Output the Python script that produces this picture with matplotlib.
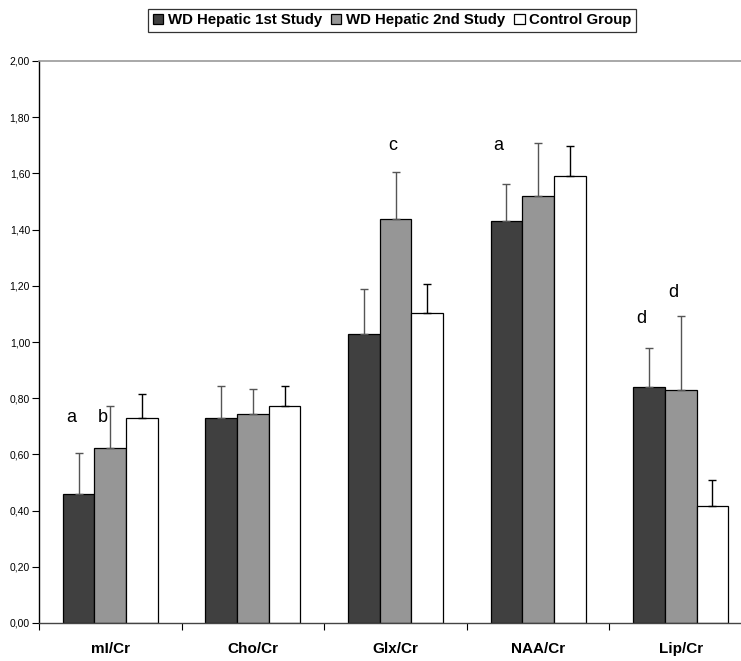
import matplotlib
matplotlib.use("Agg")
import matplotlib.pyplot as plt
import numpy as np
from matplotlib.ticker import FuncFormatter, FixedLocator

plt.rcParams['font.family'] = ['Liberation Sans', 'DejaVu Sans']

categories = ["mI/Cr", "Cho/Cr", "Glx/Cr", "NAA/Cr", "Lip/Cr"]
series = ["WD Hepatic 1st Study", "WD Hepatic 2nd Study", "Control Group"]

first_study = [0.458, 0.731, 1.028, 1.431, 0.841]
first_err = [0.148, 0.112, 0.160, 0.130, 0.138]
second_study = [0.623, 0.743, 1.437, 1.520, 0.829]
second_err = [0.149, 0.091, 0.169, 0.187, 0.262]
control = [0.731, 0.773, 1.104, 1.591, 0.416]
control_err = [0.083, 0.070, 0.101, 0.107, 0.092]

# significance letters: (category index, series index, letter, y)
letters = [(0, 0, "a", 0.73), (0, 1, "b", 0.73), (2, 1, "c", 1.70),
           (3, 0, "a", 1.70), (4, 0, "d", 1.085), (4, 1, "d", 1.175)]

values = [first_study, second_study, control]
errors = [first_err, second_err, control_err]
colors = ["#404040", "#969696", "#ffffff"]
err_colors = ["#555555", "#555555", "#000000"]

fig = plt.figure(figsize=(7.41, 6.61), dpi=100)
ax = fig.add_axes([39/741, 38/661, 713/741, 562/661])

x = np.arange(len(categories))
w = 0.222
for i in range(3):
    pos = x + (i - 1) * w
    ax.bar(pos, values[i], w, color=colors[i], edgecolor="black",
           linewidth=0.9, label=series[i], zorder=2)
    ax.errorbar(pos, values[i], yerr=[np.zeros(len(x)), errors[i]], fmt="none",
                ecolor=err_colors[i], elinewidth=1.0, capsize=2.6,
                capthick=1.0, zorder=3)

for ci, si, txt, yy in letters:
    shift = -0.02 if txt == "c" else -0.055
    ax.text(ci + (si - 1) * w + shift, yy, txt, ha="center", va="center", fontsize=13)

ax.set_xlim(-0.5, 4.5)
ax.set_ylim(0, 2.0)
ax.yaxis.set_major_locator(FixedLocator(np.arange(0, 2.01, 0.2)))
ax.yaxis.set_major_formatter(FuncFormatter(lambda v, p: ("%.2f" % v).replace(".", ",")))
ax.tick_params(axis="y", labelsize=7.5, length=5, width=0.8, direction="out", pad=1.5)

ax.set_xticks(x)
ax.set_xticklabels(categories, fontweight="bold", fontsize=11)
ax.tick_params(axis="x", length=0, pad=14)
ax.set_xticks(np.arange(-0.5, 5.0, 1.0), minor=True)
ax.tick_params(axis="x", which="minor", length=5, width=0.8, direction="out")

ax.spines["left"].set_color("black")
ax.spines["left"].set_linewidth(1.0)
ax.spines["bottom"].set_color("#444444")
ax.spines["bottom"].set_linewidth(1.0)
ax.spines["top"].set_color("#999999")
ax.spines["top"].set_linewidth(1.2)
ax.spines["right"].set_visible(False)

leg = fig.legend(loc="center", bbox_to_anchor=(392/741, 1 - 20/661), ncol=3,
                 frameon=True, fancybox=False, edgecolor="black",
                 prop={"weight": "bold", "size": 10.8},
                 handlelength=0.7, handleheight=0.7, handletextpad=0.3,
                 columnspacing=0.6, borderpad=0.3, borderaxespad=0)
leg.get_frame().set_linewidth(0.9)

fig.savefig("out.png", dpi=100)
